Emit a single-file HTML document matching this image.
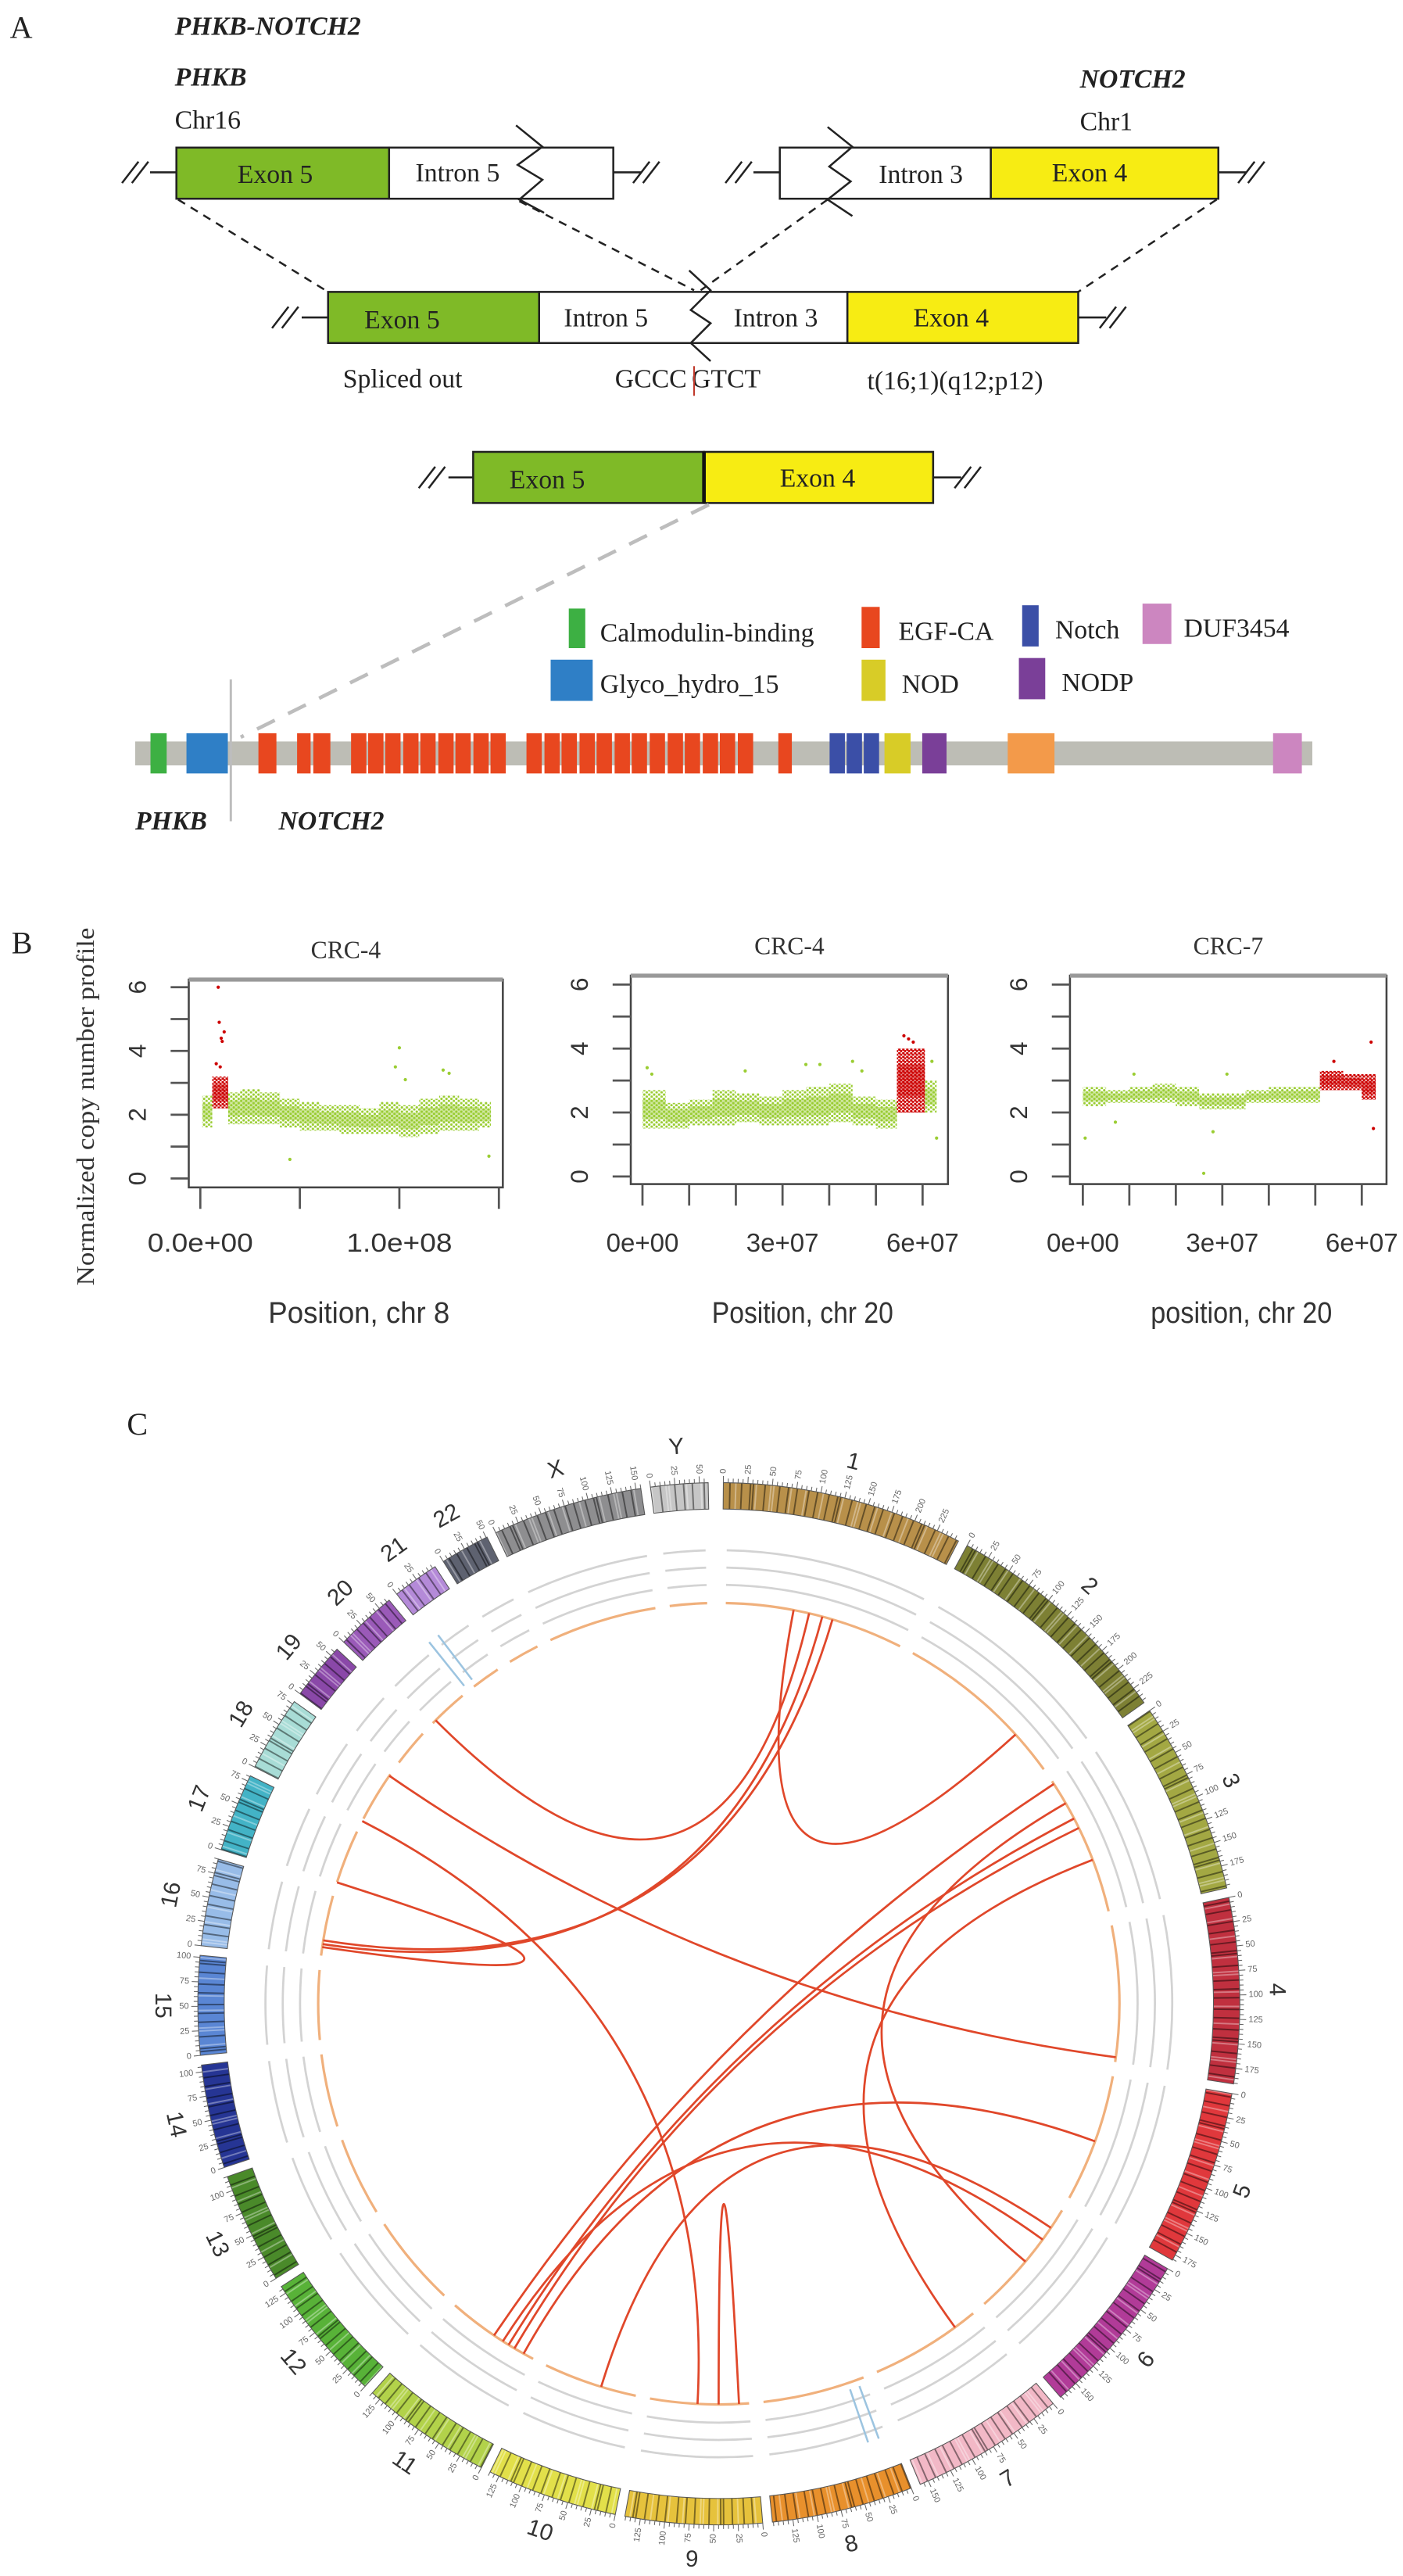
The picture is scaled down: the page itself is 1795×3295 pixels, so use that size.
<!DOCTYPE html>
<html><head><meta charset="utf-8"><title>PHKB-NOTCH2 fusion figure</title>
<style>
html,body{margin:0;padding:0;background:#fff;}
svg{display:block;}
.serif{font-family:"Liberation Serif",serif;}
.sans{font-family:"Liberation Sans",sans-serif;}
</style></head>
<body>
<svg id="fig" xmlns="http://www.w3.org/2000/svg" width="1795" height="3295" viewBox="0 0 851 1562" preserveAspectRatio="none">
<defs>
<pattern id="dotG" patternUnits="userSpaceOnUse" width="3" height="2.6"><circle cx="0.8" cy="0.7" r="0.75" fill="#9acd32"/><circle cx="2.3" cy="2" r="0.75" fill="#9acd32"/></pattern>
<pattern id="dotR" patternUnits="userSpaceOnUse" width="2.4" height="2.2"><circle cx="0.7" cy="0.6" r="0.8" fill="#cd0000"/><circle cx="1.9" cy="1.7" r="0.8" fill="#cd0000"/></pattern>
</defs>
<rect x="0" y="0" width="851" height="1562" fill="#fff"/>
<!-- PANEL A -->
<g id="panelA" class="serif" fill="#222">
<text x="6" y="23" font-size="19">A</text>
<text x="106" y="21" font-size="16" font-weight="bold" font-style="italic">PHKB-NOTCH2</text>
<text x="106" y="52" font-size="16" font-weight="bold" font-style="italic">PHKB</text>
<text x="106" y="78" font-size="16">Chr16</text>
<text x="655" y="53" font-size="16" font-weight="bold" font-style="italic">NOTCH2</text>
<text x="655" y="79" font-size="16">Chr1</text>

<g stroke="#222" stroke-width="1.2" fill="none">
<line x1="108" y1="121" x2="199" y2="177" stroke-dasharray="5,4"/>
<line x1="315" y1="122" x2="421" y2="176" stroke-dasharray="5,4"/>
<line x1="502" y1="121" x2="425" y2="176" stroke-dasharray="5,4"/>
<line x1="738" y1="121" x2="654" y2="177" stroke-dasharray="5,4"/>
</g>

<g>
<line x1="91" y1="104.5" x2="107" y2="104.5" stroke="#222" stroke-width="1.2"/>
<line x1="74" y1="111" x2="84" y2="98" stroke="#222" stroke-width="1.2"/>
<line x1="80" y1="111" x2="90" y2="98" stroke="#222" stroke-width="1.2"/>
<rect x="107" y="89.5" width="129" height="31" fill="#7fba27" stroke="#222" stroke-width="1.2"/>
<rect x="236" y="89.5" width="136" height="31" fill="#fff" stroke="#222" stroke-width="1.2"/>
<polyline points="313,76 329,89 314,100 329,109 315,121 330,129" fill="none" stroke="#222" stroke-width="1.2"/>
<line x1="372" y1="104.5" x2="389" y2="104.5" stroke="#222" stroke-width="1.2"/>
<line x1="384" y1="111" x2="394" y2="98" stroke="#222" stroke-width="1.2"/>
<line x1="390" y1="111" x2="400" y2="98" stroke="#222" stroke-width="1.2"/>
<text x="144" y="111" font-size="16">Exon 5</text>
<text x="252" y="110" font-size="16">Intron 5</text>
</g>

<g>
<line x1="457" y1="104.5" x2="473" y2="104.5" stroke="#222" stroke-width="1.2"/>
<line x1="440" y1="111" x2="450" y2="98" stroke="#222" stroke-width="1.2"/>
<line x1="446" y1="111" x2="456" y2="98" stroke="#222" stroke-width="1.2"/>
<rect x="473" y="89.5" width="128" height="31" fill="#fff" stroke="#222" stroke-width="1.2"/>
<rect x="601" y="89.5" width="138" height="31" fill="#f7ec13" stroke="#222" stroke-width="1.2"/>
<polyline points="502,77 517,89 503,101 516,110 502,121 517,131" fill="none" stroke="#222" stroke-width="1.2"/>
<line x1="739" y1="104.5" x2="756" y2="104.5" stroke="#222" stroke-width="1.2"/>
<line x1="751" y1="111" x2="761" y2="98" stroke="#222" stroke-width="1.2"/>
<line x1="757" y1="111" x2="767" y2="98" stroke="#222" stroke-width="1.2"/>
<text x="533" y="111" font-size="16">Intron 3</text>
<text x="638" y="110" font-size="16">Exon 4</text>
</g>

<g>
<line x1="183" y1="192.5" x2="199" y2="192.5" stroke="#222" stroke-width="1.2"/>
<line x1="165" y1="199" x2="175" y2="186" stroke="#222" stroke-width="1.2"/>
<line x1="171" y1="199" x2="181" y2="186" stroke="#222" stroke-width="1.2"/>
<rect x="199" y="177" width="128" height="31" fill="#7fba27" stroke="#222" stroke-width="1.2"/>
<rect x="327" y="177" width="187" height="31" fill="#fff" stroke="#222" stroke-width="1.2"/>
<rect x="514" y="177" width="140" height="31" fill="#f7ec13" stroke="#222" stroke-width="1.2"/>
<polyline points="418,164 431,176 419,188 431,196 419,208 431,219" fill="none" stroke="#222" stroke-width="1.2"/>
<line x1="654" y1="192.5" x2="671" y2="192.5" stroke="#222" stroke-width="1.2"/>
<line x1="667" y1="199" x2="677" y2="186" stroke="#222" stroke-width="1.2"/>
<line x1="673" y1="199" x2="683" y2="186" stroke="#222" stroke-width="1.2"/>
<text x="221" y="199" font-size="16">Exon 5</text>
<text x="342" y="198" font-size="16">Intron 5</text>
<text x="445" y="198" font-size="16">Intron 3</text>
<text x="554" y="198" font-size="16">Exon 4</text>
<text x="208" y="235" font-size="16">Spliced out</text>
<text x="373" y="235" font-size="16">GCCC<tspan dx="3">GTCT</tspan></text>
<line x1="421" y1="222" x2="421" y2="240" stroke="#c0392b" stroke-width="1"/>
<text x="526" y="236" font-size="16">t(16;1)(q12;p12)</text>
</g>

<g>
<line x1="272" y1="289.5" x2="287" y2="289.5" stroke="#222" stroke-width="1.2"/>
<line x1="254" y1="296" x2="264" y2="283" stroke="#222" stroke-width="1.2"/>
<line x1="260" y1="296" x2="270" y2="283" stroke="#222" stroke-width="1.2"/>
<rect x="287" y="274" width="140" height="31" fill="#7fba27" stroke="#222" stroke-width="1.2"/>
<rect x="427" y="274" width="139" height="31" fill="#f7ec13" stroke="#222" stroke-width="1.2"/>
<line x1="427" y1="274" x2="427" y2="305" stroke="#111" stroke-width="2.2"/>
<line x1="566" y1="289.5" x2="583" y2="289.5" stroke="#222" stroke-width="1.2"/>
<line x1="579" y1="296" x2="589" y2="283" stroke="#222" stroke-width="1.2"/>
<line x1="585" y1="296" x2="595" y2="283" stroke="#222" stroke-width="1.2"/>
<text x="309" y="296" font-size="16">Exon 5</text>
<text x="473" y="295" font-size="16">Exon 4</text>
</g>
<line x1="430" y1="306" x2="146" y2="447" stroke="#bdbdbd" stroke-width="2.2" stroke-dasharray="12,9"/>

<g font-size="16">
<rect x="345" y="369" width="10" height="24" fill="#3db043"/>
<text x="364" y="389">Calmodulin-binding</text>
<rect x="334" y="400" width="25.5" height="25" fill="#2f7fc6"/>
<text x="364" y="420">Glyco_hydro_15</text>
<rect x="522.6" y="368" width="11" height="25" fill="#e8471f"/>
<text x="545" y="388">EGF-CA</text>
<rect x="522.6" y="400" width="14.5" height="25" fill="#d8cc27"/>
<text x="547" y="420">NOD</text>
<rect x="620" y="367" width="10" height="25" fill="#3b4fa7"/>
<text x="640" y="387">Notch</text>
<rect x="618" y="399" width="16" height="25" fill="#7a3f98"/>
<text x="644" y="419">NODP</text>
<rect x="693" y="366" width="17.5" height="24.5" fill="#cc86c0"/>
<text x="718" y="386">DUF3454</text>
</g>
<rect x="82" y="449.6" width="714" height="14.5" fill="#bdbdb5"/>
<g id="domains"></g>
<line x1="140" y1="412" x2="140" y2="498" stroke="#bdbdbd" stroke-width="1.4"/>
<text x="82" y="503" font-size="16" font-weight="bold" font-style="italic">PHKB</text>
<text x="169" y="503" font-size="16" font-weight="bold" font-style="italic">NOTCH2</text>
</g>

<!-- PANEL B -->
<g id="panelB">
<text x="7" y="578" font-size="19" class="serif" fill="#222">B</text>
<text transform="translate(57,671) rotate(-90)" text-anchor="middle" font-size="15" class="serif" fill="#333" textLength="217" lengthAdjust="spacingAndGlyphs">Normalized copy number profile</text>
</g>

<!-- PANEL C -->
<g id="panelC">
<text x="77" y="870" font-size="19" class="serif" fill="#222">C</text>
</g>
</svg>

<script>
const NS='http://www.w3.org/2000/svg';
function mk(tag,attrs,parent){const e=document.createElementNS(NS,tag);for(const k in attrs)e.setAttribute(k,attrs[k]);parent.appendChild(e);return e;}

/* ---------- Panel A protein domains ---------- */
const domainStart=[167,207,287,330,348,390,409,428,448,467,487,506,526,545,585,605,624,644,663,683,702,722,742,761,781,800,820,865,922,941,960,983,1025,1120,1415];
const domainEnd  =[185,253,307,345,367,407,426,445,465,484,504,523,543,562,602,622,641,661,680,700,719,739,759,778,798,817,837,880,939,958,977,1012,1052,1172,1447];
const domainType =['cal','gly','egf','egf','egf','egf','egf','egf','egf','egf','egf','egf','egf','egf','egf','egf','egf','egf','egf','egf','egf','egf','egf','egf','egf','egf','egf','egf','notch','notch','notch','nod','nodp','orange','duf'];
const domainColors={cal:'#3db043',gly:'#2f7fc6',egf:'#e8471f',notch:'#3b4fa7',nod:'#d8cc27',nodp:'#7a3f98',orange:'#f39a4a',duf:'#cc86c0'};
(function(){
 const g=document.getElementById('domains');
 const px=z=>82+(z-150)*0.5456;
 for(let i=0;i<domainStart.length;i++){
  const r=mk('rect',{x:px(domainStart[i]),y:444.6,width:px(domainEnd[i])-px(domainStart[i]),height:24.4,fill:domainColors[domainType[i]]},g);
  
  
 }
})();

/* ---------- Panel B copy-number plots ---------- */
const cn8Start=[1,6,14,20,30,40,50,60,70,80,90,100,110,120,130,140];
const cn8End  =[6,14,20,30,40,50,60,70,80,90,100,110,120,130,140,146];
const cn8Lo   =[1.6,2.2,1.7,1.7,1.7,1.6,1.5,1.5,1.4,1.4,1.4,1.3,1.4,1.5,1.5,1.6];
const cn8Hi   =[2.6,3.2,2.7,2.8,2.7,2.5,2.4,2.3,2.3,2.2,2.4,2.3,2.5,2.6,2.5,2.4];
const cn8Amp  =[0,1,0,0,0,0,0,0,0,0,0,0,0,0,0,0];
const cn8OutX =[9,9.5,10.5,11,12,8,10,45,100,98,103,122,125,145];
const cn8OutY =[6.0,4.9,4.4,4.3,4.6,3.6,3.5,0.6,4.1,3.5,3.1,3.4,3.3,0.7];
const cn8OutAmp=[1,1,1,1,1,1,1,0,0,0,0,0,0,0];

const cn20aStart=[0,5,10,15,20,25,30,35,40,45,50,54.5,60.5];
const cn20aEnd  =[5,10,15,20,25,30,35,40,45,50,54.5,60.5,63];
const cn20aLo   =[1.5,1.5,1.6,1.6,1.7,1.6,1.6,1.6,1.7,1.6,1.5,2.0,2.0];
const cn20aHi   =[2.7,2.3,2.4,2.7,2.6,2.5,2.7,2.8,2.9,2.5,2.4,4.0,3.0];
const cn20aAmp  =[0,0,0,0,0,0,0,0,0,0,0,1,0];
const cn20aOutX =[1,2,22,35,38,45,47,56,57,58,62,63];
const cn20aOutY =[3.4,3.2,3.3,3.5,3.5,3.6,3.3,4.4,4.3,4.2,3.6,1.2];
const cn20aOutAmp=[0,0,0,0,0,0,0,1,1,1,0,0];

const cn20bStart=[0,5,10,15,20,25,30,35,40,45,51,56,60];
const cn20bEnd  =[5,10,15,20,25,30,35,40,45,51,56,60,63];
const cn20bLo   =[2.2,2.3,2.3,2.3,2.2,2.1,2.1,2.3,2.3,2.3,2.7,2.7,2.4];
const cn20bHi   =[2.8,2.7,2.8,2.9,2.8,2.6,2.6,2.7,2.8,2.8,3.3,3.2,3.2];
const cn20bAmp  =[0,0,0,0,0,0,0,0,0,0,1,1,1];
const cn20bOutX =[0.5,7,11,26,28,31,54,62,62.5];
const cn20bOutY =[1.2,1.7,3.2,0.1,1.4,3.2,3.6,4.2,1.5];
const cn20bOutAmp=[0,0,0,0,0,0,1,1,1];

const yTicks=[0,1,2,3,4,5,6];
const yTickLabels=['0','','2','','4','','6'];
const p1XTicks=[0,50,100,150];
const p1XTickLabels=['0.0e+00','','1.0e+08',''];
const p20XTicks=[0,10,20,30,40,50,60];
const p20XTickLabels=['0e+00','','','3e+07','','','6e+07'];
const plotTitles=['CRC-4','CRC-4','CRC-7'];
const plotXLabels=['Position, chr 8','Position, chr 20','position, chr 20'];

function drawCN(idx,box,xa,ya,S,E,L,H,A,OX,OY,OA,xt,xtl){
 const root=document.getElementById('panelB');
 const g=mk('g',{},root);
 
 
 const X=v=>xa[0]+(v-xa[1])*(xa[2]-xa[0])/(xa[3]-xa[1]);
 const Y=v=>ya[0]+(v-ya[1])*(ya[2]-ya[0])/(ya[3]-ya[1]);
 const t=mk('text',{x:(box[0]+box[2])/2,y:box[1]-13,'text-anchor':'middle','font-size':15,class:'serif',fill:'#333'},g);
 t.textContent=plotTitles[idx];
 
 
 for(let i=0;i<S.length;i++){
  const col=A[i]?'#cd0000':'#9acd32';
  const r=mk('rect',{x:X(S[i]),y:Y(H[i]),width:X(E[i])-X(S[i]),height:Y(L[i])-Y(H[i]),fill:A[i]?'url(#dotR)':'url(#dotG)'},g);
  
  
  const m=(L[i]+H[i])/2, q=(H[i]-L[i])*0.25;
  const c=mk('rect',{x:X(S[i]),y:Y(m+q),width:X(E[i])-X(S[i]),height:Y(m-q)-Y(m+q),fill:col,opacity:0.45},g);
  
  
 }
 for(let i=0;i<OX.length;i++){
  const c=mk('circle',{cx:X(OX[i]),cy:Y(OY[i]),r:1,fill:OA[i]?'#cd0000':'#9acd32'},g);
  
  
 }
 const b=mk('rect',{x:box[0],y:box[1],width:box[2]-box[0],height:box[3]-box[1],fill:'none',stroke:'#444','stroke-width':1.2},g);
 
 
 const tb=mk('line',{x1:box[0],y1:box[1],x2:box[2],y2:box[1],stroke:'#999','stroke-width':2.5},g);
 
 
 for(let i=0;i<yTicks.length;i++){
  const l=mk('line',{x1:box[0]-11,y1:Y(yTicks[i]),x2:box[0],y2:Y(yTicks[i]),stroke:'#555','stroke-width':1.3},g);
  
  
  if(yTickLabels[i]){
   const tl=mk('text',{transform:'translate('+(box[0]-26)+','+Y(yTicks[i])+') rotate(-90)','text-anchor':'middle','font-size':15,class:'sans',fill:'#333'},g);
   tl.textContent=yTickLabels[i];
   
   
  }
 }
 for(let i=0;i<xt.length;i++){
  const l=mk('line',{x1:X(xt[i]),y1:box[3],x2:X(xt[i]),y2:box[3]+13,stroke:'#555','stroke-width':1.3},g);
  
  
  if(xtl[i]){
   const tl=mk('text',{x:X(xt[i]),y:759,'text-anchor':'middle','font-size':16,class:'sans',fill:'#333',textLength:xtl[i].length>5?64:44,lengthAdjust:'spacingAndGlyphs'},g);
   tl.textContent=xtl[i];
   
   
  }
 }
 const xl=mk('text',{x:(box[0]+box[2])/2+8,y:802,'text-anchor':'middle','font-size':18,class:'sans',fill:'#333',textLength:110,lengthAdjust:'spacingAndGlyphs'},g);
 xl.textContent=plotXLabels[idx];
 
 
}
drawCN(0,[114.5,594,305,720],[121.5,0,302.6,150],[714.6,0,598.6,6],cn8Start,cn8End,cn8Lo,cn8Hi,cn8Amp,cn8OutX,cn8OutY,cn8OutAmp,p1XTicks,p1XTickLabels);
drawCN(1,[382.6,591.6,575,718],[389.7,0,559.6,60],[713.4,0,597,6],cn20aStart,cn20aEnd,cn20aLo,cn20aHi,cn20aAmp,cn20aOutX,cn20aOutY,cn20aOutAmp,p20XTicks,p20XTickLabels);
drawCN(2,[649,591.6,841,718],[656.8,0,826,60],[713.4,0,597,6],cn20bStart,cn20bEnd,cn20bLo,cn20bHi,cn20bAmp,cn20bOutX,cn20bOutY,cn20bOutAmp,p20XTicks,p20XTickLabels);

/* ---------- Panel C circos ---------- */
const chrNames=['1','2','3','4','5','6','7','8','9','10','11','12','13','14','15','16','17','18','19','20','21','22','X','Y'];
const chrLen=[249,243,198,191,181,171,159,146,141,135,135,133,115,107,102,90,81,78,59,63,48,51,155,59];
const chrColor=['#b8904a','#7d8034','#a3a843','#c0303f','#e0383c','#b13b98','#f2b8c6','#e8902c','#e6c23c','#e2e04a','#b2d24a','#58b238','#4a8a2a','#263594','#5a86d4','#98bce8','#43b3c6','#a8dcd6','#8a48a8','#9a5ab8','#b48ad8','#5e6270','#8e8e90','#c6c6c6'];
const linkChrA=[20,1,18,18,17,16,16,11,11,11,11,10,9,7,6,11];
const linkPosA=[10,95,71,1,4,25,20,65,42,33,19,52,18,35,88,51];
const linkChrB=[1,2,4,9,16,1,1,3,3,3,5,6,9,3,3,6];
const linkPosB=[116,179,180,73,16,148,134,9,62,76,94,32,45,122,39,51];

(function(){
 const root=document.getElementById('panelC');
 const cx=436, cy=1215;
 const K=0.108, GAP=1.07, A0=0.5;
 const starts=[]; let a=A0;
 for(let i=0;i<chrLen.length;i++){starts.push(a);a+=chrLen[i]*K+GAP;}
 const ang=(ci,mb)=>starts[ci]+mb*K;
 const pt=(deg,r)=>{const t=deg*Math.PI/180;return [cx+r*Math.sin(t),cy-r*Math.cos(t)];};
 const arc=(a1,a2,r)=>{const p=pt(a1,r),q=pt(a2,r);return 'M'+p[0].toFixed(2)+','+p[1].toFixed(2)+' A'+r+','+r+' 0 '+((a2-a1)>180?1:0)+' 1 '+q[0].toFixed(2)+','+q[1].toFixed(2);};
 const wedge=(a1,a2,r1,r2)=>{const p1=pt(a1,r2),p2=pt(a2,r2),p3=pt(a2,r1),p4=pt(a1,r1);const f=(a2-a1)>180?1:0;
  return 'M'+p1.join(',')+' A'+r2+','+r2+' 0 '+f+' 1 '+p2.join(',')+' L'+p3.join(',')+' A'+r1+','+r1+' 0 '+f+' 0 '+p4.join(',')+'Z';};
 const bandPattern=[0,0,1,0,2,0,1,0,0,1,1,2,0,0,1,0,2,2,0,1,0,0,1,2,0,1,0,0,2,1];
 const ringR=[275,264.5,254];
 for(let i=0;i<chrLen.length;i++){
  const a1=starts[i]+0.5, a2=starts[i]+chrLen[i]*K-0.5;
  for(const r of ringR){
   const p=mk('path',{d:arc(a1,a2,r),fill:'none',stroke:'#d3d3d3','stroke-width':1.3},root);
   
   
  }
  const o=mk('path',{d:arc(a1,a2,243),fill:'none',stroke:'#f0b07c','stroke-width':1.5},root);
  
  
 }
 for(let i=0;i<chrLen.length;i++){
  const g=mk('g',{},root);
  
  
  const a1=starts[i], a2=starts[i]+chrLen[i]*K;
  const base=mk('path',{d:wedge(a1,a2,300,316),fill:chrColor[i]},g);
  
  
  for(let mb=0,j=0;mb<chrLen[i]-2;mb+=3,j++){
   const t=bandPattern[(j+i*7)%bandPattern.length];
   if(t===0)continue;
   const b=mk('path',{d:wedge(ang(i,mb),ang(i,mb+1.6),300,316),fill:t===1?'#000':'#fff',opacity:t===1?0.45:0.35},g);
   
   
  }
  const fr=mk('path',{d:wedge(a1,a2,300,316),fill:'none',stroke:'#555','stroke-width':0.5},g);
  
  
  for(let mb=0;mb<=chrLen[i];mb+=5){
   const big=mb%25===0;
   const p=pt(ang(i,mb),316), q=pt(ang(i,mb),big?320:318.5);
   const tk=mk('line',{x1:p[0],y1:p[1],x2:q[0],y2:q[1],stroke:'#666','stroke-width':0.5},g);
   
   
   if(big){
    const aa=ang(i,mb), l=pt(aa,321.5);
    const rot=(aa>180)?aa+90:aa-90;
    const tl=mk('text',{x:l[0],y:l[1],transform:'rotate('+rot.toFixed(1)+' '+l[0].toFixed(1)+' '+l[1].toFixed(1)+')','text-anchor':aa>180?'end':'start','dominant-baseline':'middle','font-size':5.2,class:'sans',fill:'#666'},g);
    tl.textContent=String(mb);
    
    
   }
  }
  const mid=(a1+a2)/2, lp=pt(mid,338);
  const rot=(mid>90&&mid<270)?mid-180:mid;
  const nl=mk('text',{x:lp[0],y:lp[1],transform:'rotate('+rot.toFixed(1)+' '+lp[0].toFixed(1)+' '+lp[1].toFixed(1)+')','text-anchor':'middle','dominant-baseline':'middle','font-size':14,class:'sans',fill:'#333'},g);
  nl.textContent=chrNames[i];
  
  
 }
 const hl=[322,160.5];
 for(const h of hl){
  for(const d of [-0.7,0.7]){
   const p=pt(h+d,247), q=pt(h+d,281);
   const l=mk('line',{x1:p[0],y1:p[1],x2:q[0],y2:q[1],stroke:'#9cc4e0','stroke-width':1.2},root);
   
   
  }
 }
 for(let i=0;i<linkChrA.length;i++){
  const ia=chrNames.indexOf(String(linkChrA[i])), ib=chrNames.indexOf(String(linkChrB[i]));
  const p=pt(ang(ia,linkPosA[i]),243), q=pt(ang(ib,linkPosB[i]),243);
  const l=mk('path',{d:'M'+p.join(',')+' Q'+cx+','+cy+' '+q.join(','),fill:'none',stroke:'#e0472a','stroke-width':1.3},root);
  
  
 }
})();
</script>
</body></html>
